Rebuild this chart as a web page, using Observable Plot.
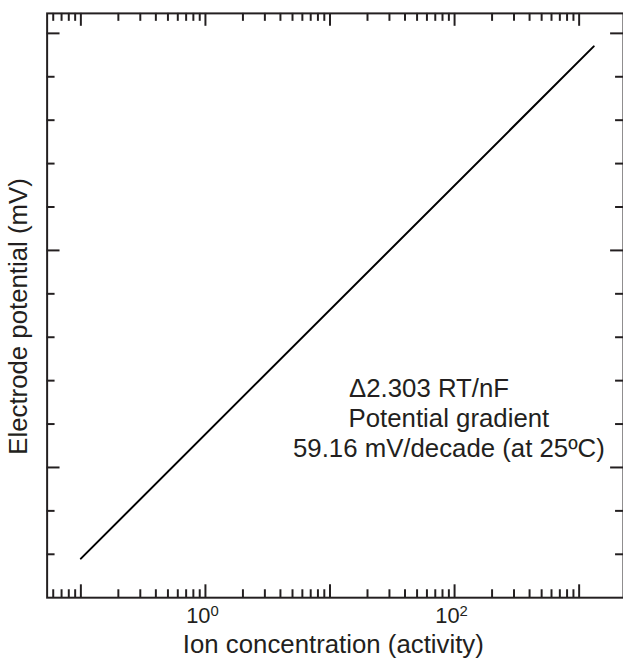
<!DOCTYPE html>
<html>
<head>
<meta charset="utf-8">
<script src="https://cdn.jsdelivr.net/npm/d3@7"></script>
<script src="https://cdn.jsdelivr.net/npm/@observablehq/plot@0.6"></script>
<style>
  html, body { margin: 0; padding: 0; background: #fff; overflow: hidden; }
  #chart { width: 623px; height: 672px; overflow: hidden; }
</style>
</head>
<body>
<div id="chart"></div>
<script>
// ---- data ----
const lineX = [0.1, 1310];          // ion activity at line ends
const lineY = [-42, 194];           // electrode potential (mV) at line ends
const xMajorTicks = [0.1, 1, 10, 100, 1000];
const xLabelValues = [1, 100];
const xLabelBase = ["10", "10"];
const xLabelExp = ["0", "2"];
const yMajorTicks = [0, 100, 200];
const yMinorTicks = [-40, -20, 20, 40, 60, 80, 120, 140, 160, 180];
const annotationLines = ["\u03942.303 RT/nF", "Potential gradient", "59.16 mV/decade (at 25\u00BAC)"];
const xTitle = "Ion concentration (activity)";
const yTitle = "Electrode potential (mV)";

// ---- layout ----
const W = 628, H = 672, mL = 47, mR = 0, mT = 13, mB = 70;
const innerW = W - mL - mR, innerH = H - mT - mB;
const xDomain = [0.0536, 2270];
const yDomain = [-60, 209.2];
const ink = "#231f20";
const font = "'Liberation Sans', Arial, Helvetica, sans-serif";

const xMinorTicks = [];
for (const dec of [0.01, 0.1, 1, 10, 100]) {
  for (let k = 2; k <= 9; k++) {
    const v = +(k * dec).toPrecision(6);
    if (v >= xDomain[0] && v < 1000) xMinorTicks.push(v);
  }
}

const LONG = 13, SHORT = 8;
const tickStyle = {stroke: ink, strokeWidth: 2};

const linePts = lineX.map((x, i) => ({x, y: lineY[i]}));
const labels = xLabelValues.map((v, i) => ({v, base: xLabelBase[i], exp: xLabelExp[i]}));

const annX = [432, 452, 452];
const annBase = [400, 430, 460];

const plot = Plot.plot({
  width: W, height: H,
  marginLeft: mL, marginRight: mR, marginTop: mT, marginBottom: mB,
  x: {type: "log", domain: xDomain, axis: null},
  y: {type: "linear", domain: yDomain, axis: null},
  style: {fontFamily: font, color: ink, background: "#fff"},
  marks: [
    // ticks: top
    Plot.tickX(xMajorTicks, {x: d => d, insetBottom: innerH - LONG, ...tickStyle}),
    Plot.tickX(xMinorTicks, {x: d => d, insetBottom: innerH - SHORT, ...tickStyle}),
    // ticks: bottom
    Plot.tickX(xMajorTicks, {x: d => d, insetTop: innerH - LONG, ...tickStyle}),
    Plot.tickX(xMinorTicks, {x: d => d, insetTop: innerH - SHORT, ...tickStyle}),
    // ticks: left
    Plot.tickY(yMajorTicks, {y: d => d, insetRight: innerW - LONG, ...tickStyle}),
    Plot.tickY(yMinorTicks, {y: d => d, insetRight: innerW - SHORT, ...tickStyle}),
    // ticks: right
    Plot.tickY(yMajorTicks, {y: d => d, insetLeft: innerW - LONG, ...tickStyle}),
    Plot.tickY(yMinorTicks, {y: d => d, insetLeft: innerW - SHORT, ...tickStyle}),
    Plot.frame({stroke: ink, strokeWidth: 2}),
    // data line
    Plot.line(linePts, {x: "x", y: "y", stroke: "#000", strokeWidth: 2}),
    // x tick labels with exponent
    Plot.text(labels, {x: "v", text: "base", frameAnchor: "bottom", textAnchor: "end",
      lineAnchor: "bottom", dx: 5, dy: 26, fontSize: 22, fill: ink}),
    Plot.text(labels, {x: "v", text: "exp", frameAnchor: "bottom", textAnchor: "start",
      lineAnchor: "bottom", dx: 5, dy: 18, fontSize: 15, fill: ink}),
    // axis titles
    Plot.text([xTitle], {frameAnchor: "bottom", textAnchor: "middle", lineAnchor: "bottom",
      dx: -2, dy: 56, fontSize: 26, fill: ink}),
    Plot.text([yTitle], {frameAnchor: "left", rotate: -90, textAnchor: "middle", lineAnchor: "middle",
      dx: -29, dy: 11, fontSize: 26, fill: ink}),
    // annotation
    ...annotationLines.map((t, i) => Plot.text([t], {frameAnchor: "top-left", textAnchor: "middle",
      lineAnchor: "bottom", dx: annX[i] - mL, dy: annBase[i] - mT, fontSize: 26, fill: ink}))
  ]
});

document.getElementById("chart").appendChild(plot);
</script>
</body>
</html>
